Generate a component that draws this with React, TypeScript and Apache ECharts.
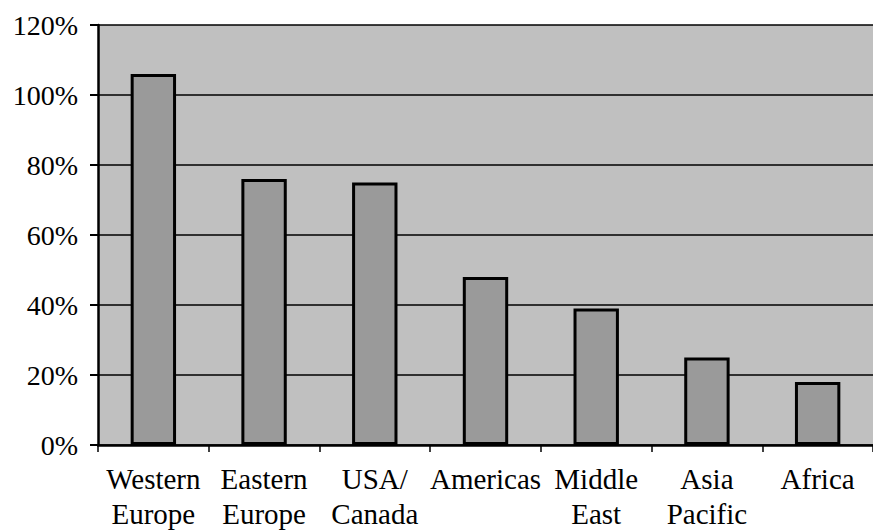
import React, { useEffect, useRef } from "react";
import * as echarts from "echarts";

const categories = ["Western\nEurope", "Eastern\nEurope", "USA/\nCanada", "Americas", "Middle\nEast", "Asia\nPacific", "Africa"];
const values = [106, 76, 75, 48, 39, 25, 18];
const yTicks = { min: 0, max: 120, interval: 20 };

export default function App() {
  const ref = useRef<HTMLDivElement>(null);
  useEffect(() => {
    document.body.style.margin = "0";
    document.body.style.overflow = "hidden";
    const chart = echarts.init(ref.current!, null, { renderer: "svg" });
    const font = "'Liberation Serif', 'Times New Roman', serif";
    chart.setOption({
      animation: false,
      backgroundColor: "#ffffff",
      grid: {
        left: 98,
        right: -9,
        top: 25,
        bottom: 83,
        show: true,
        backgroundColor: "#c0c0c0",
        borderWidth: 0,
      },
      xAxis: {
        type: "category",
        data: categories,
        boundaryGap: true,
        axisLine: { show: true, lineStyle: { color: "#000", width: 2.5 } },
        axisTick: { show: true, length: 7, inside: false, lineStyle: { color: "#000", width: 1.5 } },
        axisLabel: {
          interval: 0,
          color: "#000",
          fontFamily: font,
          fontSize: 29,
          lineHeight: 35,
          margin: 16,
        },
      },
      yAxis: {
        type: "value",
        min: yTicks.min,
        max: yTicks.max,
        interval: yTicks.interval,
        axisLine: { show: true, lineStyle: { color: "#000", width: 2.5 } },
        axisTick: { show: true, length: 8, lineStyle: { color: "#000", width: 2 } },
        axisLabel: {
          color: "#000",
          fontFamily: font,
          fontSize: 28,
          margin: 20,
          formatter: (v: number) => v + "%",
        },
        splitLine: { show: true, lineStyle: { color: "#000", width: 1.5 } },
      },
      series: [
        {
          type: "bar",
          data: values,
          barWidth: "41%",
          itemStyle: { color: "#9a9a9a", borderColor: "#000", borderWidth: 3 },
        },
      ],
    });
    return () => chart.dispose();
  }, []);
  return <div ref={ref} style={{ width: 873, height: 531, position: "fixed", left: 0, top: 0 }} />;
}
